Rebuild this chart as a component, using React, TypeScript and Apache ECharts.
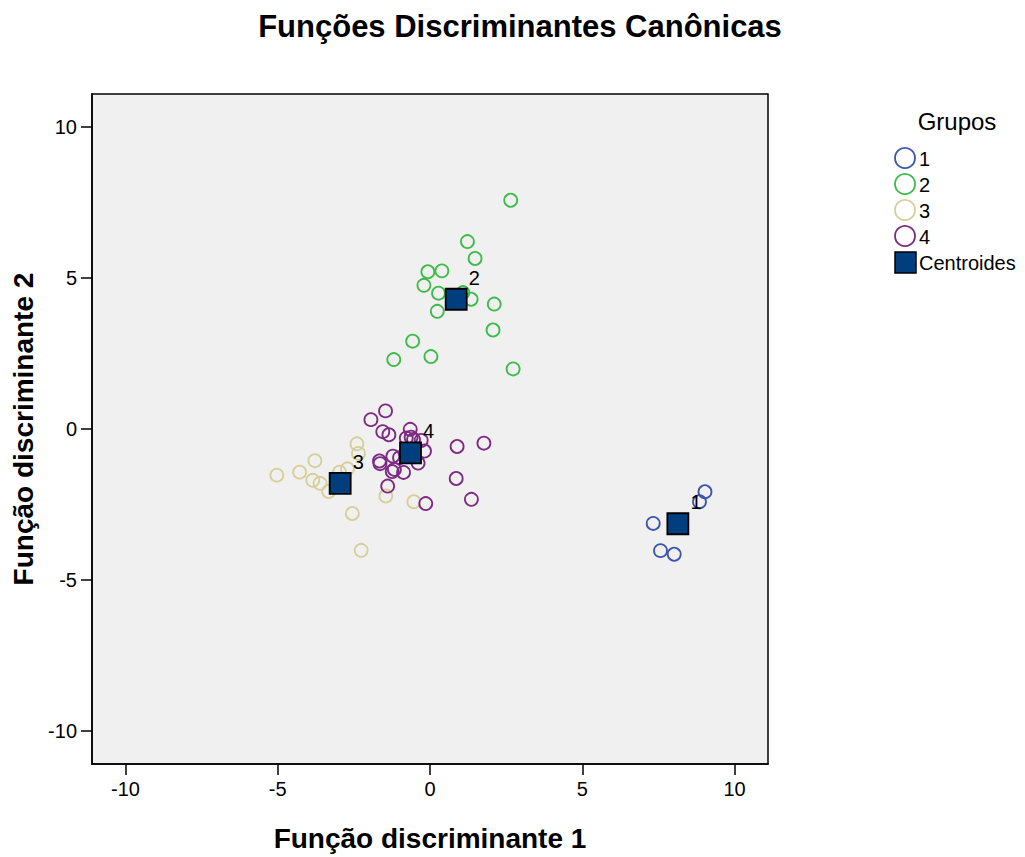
import React, { useEffect, useRef } from "react";
import * as echarts from "echarts";

const groupNames = ["1", "2", "3", "4"];
const groupColors = ["#3d55ac", "#3dbb4b", "#d6cf99", "#7d2a84"];

const group1: number[][] = [
  [9.03, -2.08], [8.85, -2.41], [7.33, -3.13], [7.57, -4.03], [8.02, -4.15],
];
const group2: number[][] = [
  [2.65, 7.58], [1.23, 6.21], [1.48, 5.65], [-0.07, 5.21], [0.39, 5.24],
  [-0.2, 4.76], [0.28, 4.5], [1.08, 4.52], [1.35, 4.3], [2.11, 4.14],
  [0.24, 3.9], [2.07, 3.28], [-0.57, 2.91], [-1.19, 2.3], [0.03, 2.4],
  [2.73, 1.99],
];
const group3: number[][] = [
  [-2.4, -0.49], [-2.35, -0.81], [-3.78, -1.05], [-4.28, -1.43], [-5.03, -1.53],
  [-3.85, -1.7], [-3.61, -1.8], [-3.33, -2.07], [-2.97, -1.43], [-2.71, -1.32],
  [-1.45, -2.22], [-0.53, -2.41], [-2.55, -2.8], [-2.26, -4.02],
];
const group4: number[][] = [
  [-1.46, 0.6], [-1.94, 0.31], [-1.55, -0.09], [-1.35, -0.19], [-0.65, -0.01],
  [-0.78, -0.3], [-0.62, -0.27], [-0.54, -0.35], [-0.29, -0.38], [-0.18, -0.73],
  [0.89, -0.58], [1.77, -0.47], [-0.39, -1.13], [-1.22, -0.9], [-1.66, -1.06],
  [-1.64, -1.15], [-1.0, -0.95], [-1.24, -1.41], [-1.17, -1.34], [-0.87, -1.44],
  [0.86, -1.64], [-1.39, -1.89], [1.36, -2.33], [-0.14, -2.47],
];
const centroidNames = ["1", "2", "3", "4"];
const centroids: number[][] = [
  [8.14, -3.14], [0.86, 4.3], [-2.95, -1.8], [-0.64, -0.79],
];
const axisTicks = [-10, -5, 0, 5, 10];

const groups = [group1, group2, group3, group4];

export default function App() {
  const ref = useRef<HTMLDivElement>(null);
  useEffect(() => {
    if (!ref.current) return;
    const chart = echarts.init(ref.current, null, { renderer: "svg" });
    const font = "Liberation Sans, Arial, sans-serif";
    const axisCommon = {
      min: -11.1,
      max: 11.1,
      splitLine: { show: false },
      axisLine: { show: true, onZero: false, lineStyle: { color: "#000", width: 1.5 } },
      axisTick: { show: true, customValues: axisTicks, length: 11, lineStyle: { color: "#000", width: 1.5 } },
      axisLabel: { customValues: axisTicks, color: "#000", fontSize: 20, fontFamily: font },
      nameLocation: "middle" as const,
      nameTextStyle: { fontSize: 28, fontWeight: "bold" as const, color: "#000", fontFamily: font },
    };
    const legendItems: any[] = [
      { type: "text", x: 957, y: 121, style: { text: "Grupos", fill: "#000", font: `24px ${font}`, align: "center", verticalAlign: "middle" } },
    ];
    groupNames.forEach((n, i) => {
      const cy = 158 + i * 26;
      legendItems.push({ type: "circle", shape: { cx: 905, cy, r: 10 }, style: { fill: "none", stroke: groupColors[i], lineWidth: 1.8 } });
      legendItems.push({ type: "text", x: 919, y: cy + 1, style: { text: n, fill: "#000", font: `20px ${font}`, verticalAlign: "middle" } });
    });
    legendItems.push({ type: "rect", shape: { x: 895, y: 252, width: 21, height: 21 }, style: { fill: "#003e7e", stroke: "#000", lineWidth: 1.5 } });
    legendItems.push({ type: "text", x: 919, y: 263, style: { text: "Centroides", fill: "#000", font: `20px ${font}`, verticalAlign: "middle" } });

    chart.setOption({
      animation: false,
      backgroundColor: "#fff",
      title: {
        text: "Funções Discriminantes Canônicas",
        left: 515,
        textAlign: "center",
        top: 6,
        textStyle: { fontSize: 31, fontWeight: "bold", color: "#000", fontFamily: font },
      },
      grid: {
        left: 92, top: 94, width: 676, height: 675,
        show: true, backgroundColor: "#f0f0f0", borderColor: "#000", borderWidth: 1.5,
      },
      xAxis: { ...axisCommon, type: "value", name: "Função discriminante 1", nameGap: 60, axisLabel: { ...axisCommon.axisLabel, margin: 15 } },
      yAxis: { ...axisCommon, type: "value", name: "Função discriminante 2", nameGap: 48, axisLabel: { ...axisCommon.axisLabel, margin: 15 } },
      series: [
        ...groups.map((g, i) => ({
          type: "scatter",
          name: groupNames[i],
          data: g,
          symbol: "circle",
          symbolSize: 13,
          itemStyle: { color: "rgba(0,0,0,0)", borderColor: groupColors[i], borderWidth: 1.8, opacity: 1 },
        })),
        {
          type: "scatter",
          name: "Centroides",
          data: centroids.map((c, i) => [c[0], c[1], centroidNames[i]]),
          symbol: "rect",
          symbolSize: 21,
          z: 5,
          itemStyle: { color: "#003e7e", borderColor: "#000", borderWidth: 1.8, opacity: 1 },
          label: {
            show: true,
            formatter: (p: any) => p.value[2],
            position: [24, -20],
            color: "#000",
            fontSize: 20,
            fontFamily: font,
          },
        },
      ],
      graphic: legendItems,
    });
    return () => chart.dispose();
  }, []);
  return <div ref={ref} style={{ position: "fixed", left: 0, top: 0, width: 1025, height: 857 }} />;
}
